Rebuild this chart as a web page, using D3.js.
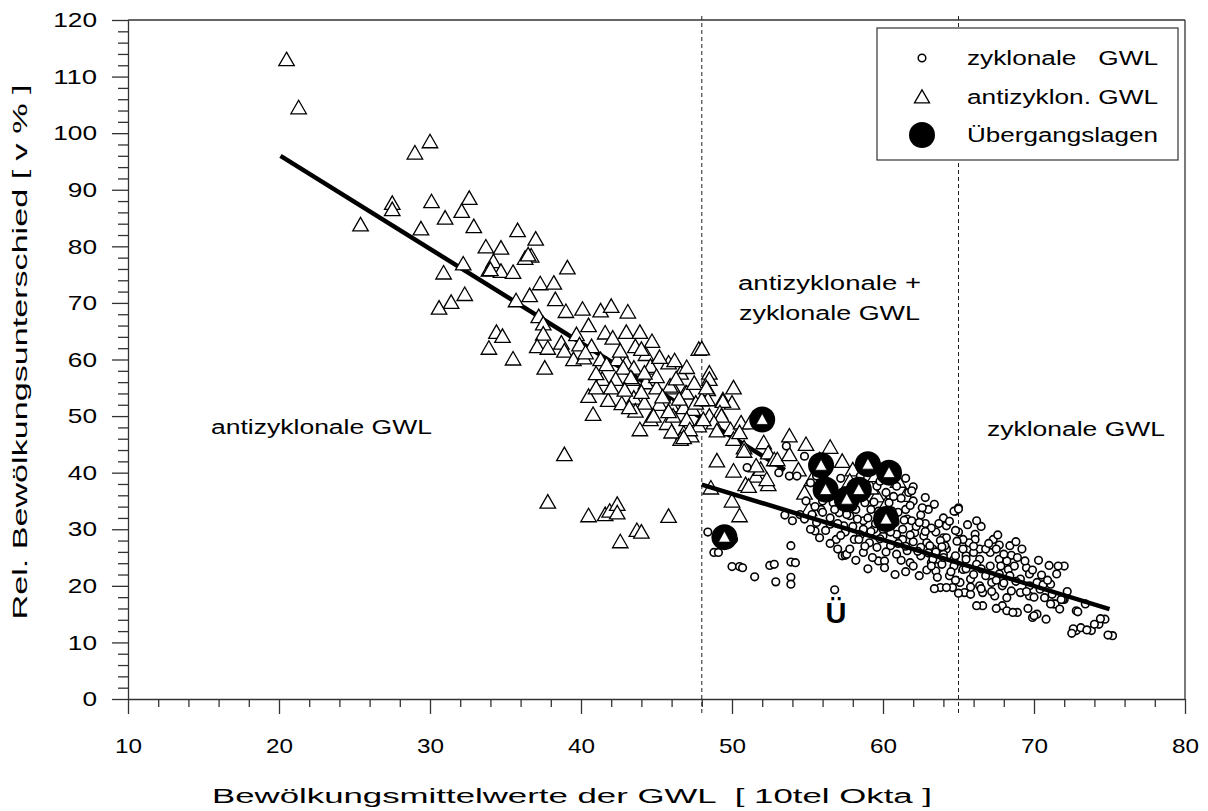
<!DOCTYPE html>
<html><head><meta charset="utf-8">
<script src="https://cdn.jsdelivr.net/npm/d3@7"></script>
<style>body{margin:0;background:#fff}svg{display:block}text{font-family:"Liberation Sans",Arial,sans-serif;fill:#000}</style>
</head><body><svg id="c" width="1208" height="811"></svg>
<script>
const xTicks = [10,20,30,40,50,60,70,80];
const yTicks = [0,10,20,30,40,50,60,70,80,90,100,110,120];
const boundaries = [48, 65];
const antiLine = [[20.1,96.0],[53.5,40.5]];
const zykLine = [[48.0,37.9],[75.0,15.9]];

const antiPoints = [
[20.5,113],[21.3,104.5],[29.0,96.5],[30.0,98.5],
[27.5,87.6],[27.5,86.5],[25.4,83.8],[30.1,87.9],[32.6,88.5],[32.1,86.2],[31.0,85.0],[29.4,83.1],[32.9,83.5],[35.8,82.8],[37.0,81.3],
[33.7,79.9],[34.7,79.7],[36.7,78.3],[36.3,77.9],[32.2,76.9],[34.2,77.3],[33.9,75.8],[34.7,75.6],[35.5,75.4],[30.9,75.3],[39.1,76.2],[36.5,78.5],[34.0,75.9],
[37.3,73.4],[38.2,73.5],[36.6,71.3],[38.3,70.6],[32.3,71.5],[31.4,70.1],[30.6,69.1],[35.7,70.4],
[39.0,68.5],[40.1,68.9],[41.3,68.6],[42.0,69.4],[43.1,68.4],[37.2,67.6],[37.5,66.3],[40.5,66.0],
[37.5,64.5],[34.4,64.8],[34.8,64.1],[33.9,62.0],[35.5,60.1],[37.6,58.5],[37.1,62.3],[37.8,62.0],[38.7,62.9],[39.7,64.4],[39.9,62.6],[40.7,62.3],[41.6,64.7],[42.1,63.8],[43.0,64.8],[43.9,64.8],[43.6,62.3],[44.7,63.2],[44.3,60.9],[45.8,59.4],[46.6,57.6],[47.8,61.8],
[38.9,61.5],[39.5,60.0],[40.2,60.3],[41.3,60.0],[42.4,60.0],[43.0,59.4],[43.5,58.5],[44.6,58.5],[40.3,61.2],[41.7,59.1],[42.8,58.5],[44.6,58.8],
[41.4,56.5],[42.3,56.5],[43.4,56.5],[44.3,55.9],[45.0,55.0],[46.1,55.0],[46.9,54.1],[43.3,56.8],[45.9,55.3],[47.0,54.1],
[40.5,53.5],[41.8,52.8],[42.7,52.2],[43.5,53.2],[44.2,52.3],[45.2,52.1],[46.0,51.8],[46.8,51.5],[47.4,51.2],[47.6,52.3],
[40.8,50.3],[43.6,50.9],[44.6,49.4],[45.7,48.7],[43.9,47.6],[46.8,47.0],[47.3,46.5],[46.6,45.9],[44.8,50.0],[46.1,50.0],[47.0,49.4],
[41.0,57.5],[42.0,55.0],[42.9,54.6],[44.0,54.2],[45.4,53.4],[46.5,53.0],[43.2,51.5],[45.0,57.0],[46.3,56.6],[47.5,55.8],
[44.2,57.6],[42.6,61.5],[44.0,61.8],[45.2,60.4],[46.2,59.8],[47.0,58.6],[41.0,55.0],[45.8,50.8],[47.8,48.3],[46.0,47.2],
[38.9,43.2],
[37.8,34.8],[40.5,32.4],[41.6,32.6],[41.9,33.2],[42.4,34.4],[42.4,32.9],[42.6,27.8],[43.7,29.8],[44.0,29.5],[45.8,32.3],
[48.0,61.9],[48.5,57.6],[48.5,56.5],[48.4,54.7],[50.1,55.0],[48.4,52.9],[49.4,52.9],[50.0,52.3],[48.0,52.9],[48.3,55.0],[49.4,52.6],[48.5,50.0],[49.2,50.6],
[49.3,50.0],[48.8,48.8],[48.1,49.4],[47.2,47.6],[46.8,46.2],[49.9,47.6],[50.6,48.8],[49.0,47.4],[50.1,45.9],[50.8,44.4],[51.2,48.8],[50.5,47.1],
[52.1,45.3],[53.8,46.5],[54.9,45.0],[52.4,43.5],[52.8,42.3],[49.0,42.1],[50.1,40.3],[50.9,37.9],[51.6,39.4],[52.4,37.9],[48.6,37.3],[50.0,35.0],[50.5,32.4],
[50.8,43.8],[51.9,40.6],[51.1,37.6],[52.3,38.8],[51.6,41.2],[53.0,42.3],[53.8,43.2],
[54.8,36.4],[55.1,33.5],[58.6,37.3],[59.6,35.9],[59.2,37.3],[60.2,34.4],[55.8,42.3],
[56.5,44.5],[57.3,42.0],[58.0,40.5],[59.5,39.5],[61.0,38.5],[61.5,36.0],[57.8,38.5],[56.0,39.5],[54.4,40.5],[55.3,38.8]
];

const zykPoints = [
[48.4,29.5],[48.8,25.9],[50.1,28.2],[50.0,23.4],[50.5,23.4],[52.5,23.6],[53.9,24.2],[53.9,27.1],[57.3,25.3],[57.5,25.4],
[53.6,44.7],[51.0,40.9],[53.8,39.4],[54.3,39.4],[54.8,42.9],[56.0,39.7],[53.1,40.0],
[54.5,32.6],[55.3,32.6],[55.5,29.7],[54.8,31.8],[56.5,30.9],[57.4,30.6],[58.1,28.2],[58.7,25.9],[59.7,24.4],
[60.9,37.6],[61.7,36.5],[61.5,33.5],[61.6,31.8],[61.9,31.5],[64.2,30.6],[64.8,33.2],[65.0,33.8],
[58.5,39.4],[59.6,37.6],[60.2,36.5],[60.4,34.7],[60.9,29.1],[61.3,28.2],[62.7,28.8],[62.9,27.6],[63.3,26.5],[64.0,28.5],[64.2,26.5],[65.3,27.6],
[56.7,34.7],[57.1,32.9],[57.8,32.4],[58.2,33.5],[58.7,31.5],[59.4,30.0],[59.1,27.6],[60.0,28.8],[60.5,27.1],[61.6,26.2],[62.5,25.3],[63.2,24.1],[63.6,24.7],[64.7,24.7],[65.5,25.3],
[56.9,28.2],[55.9,33.5],[56.3,35.9],[55.2,38.2],[55.6,39.4],[57.6,32.6],[58.8,34.7],[59.7,33.2],[58.7,30.0],[61.3,30.0],[62.1,29.4],
[49.1,25.9],[50.7,23.2],[51.5,21.6],[52.8,23.8],[52.9,20.7],[53.9,21.5],[53.9,20.3],[54.2,24.1],[56.8,19.3],[57.6,25.6],
[60.1,24.4],[60.1,23.2],[61.8,24.1],[62.4,21.8],[63.8,19.7],[64.6,19.7],[65.4,18.8],[66.6,16.5],[67.9,16.5],[68.2,15.6],[68.9,15.3],[69.9,14.4],[70.2,15.0],[71.3,16.8],[71.5,22.1],[72.0,23.5],
[72.8,12.1],[73.1,12.6],[73.8,12.1],[74.3,13.2],[74.7,14.1],[75.2,11.2],[72.8,15.6],[72.0,17.6],
[64.7,33.2],[65.0,33.6],[64.2,28.5],[66.1,29.1],[66.1,28.2],[67.3,28.2],[67.7,27.2],[68.4,27.1],[68.5,25.4],[68.9,25.0],[69.5,23.2],[70.5,21.9],[71.6,23.5],[71.1,20.3],[71.9,17.6],
[73.4,16.8],[72.9,15.4],[74.4,14.2],[74.0,13.2],[73.5,12.2],[72.6,12.4],[72.5,11.6],[74.9,11.3],[70.8,14.1],[70.0,14.7],[69.6,16.0],[68.6,15.3],[67.5,16.0],[66.2,16.5],
[63.4,19.5],[64.2,19.7],[65.0,18.7],[65.8,18.5],[66.6,18.8],[67.4,18.2],[68.2,17.9],[69.7,18.2],[70.4,19.4],[70.7,17.9],[71.4,16.8],[71.7,15.9],[71.8,17.6],[71.1,16.8],
[64.1,27.1],[65.3,26.5],[65.5,24.7],[66.4,26.5],[66.4,24.7],[67.1,25.9],[67.7,24.7],[68.3,22.9],[69.1,21.2],[69.7,20.0],[68.4,21.8],[67.7,22.1],[67.1,23.5],[66.2,23.8],[65.3,22.9],[64.7,23.5],[63.9,23.8],[63.3,24.7],[63.5,22.6],[64.4,21.8],[65.1,20.6],[65.8,21.2],[66.4,20.0],[67.2,20.6],[67.9,20.0],[68.5,19.1],[69.1,18.8],
[63.1,27.1],[64.0,25.6],[64.8,25.3],[65.7,27.6],[66.0,25.9],[66.8,26.5],[67.5,26.5],[68.2,24.4],[68.7,23.5],[69.7,22.1],[70.2,20.6],[65.3,28.2],[64.9,27.9],
[56.0,33.0],[56.5,32.0],[57.0,31.0],[57.5,29.5],[58.0,30.5],[58.5,29.0],[59.0,32.0],[59.5,31.0],[60.0,30.0],[60.5,29.5],[61.0,27.5],[61.5,27.0],[62.0,27.8],[62.5,26.8],[63.0,25.8],[63.5,26.0],[64.0,25.0],
[62.2,30.5],[62.8,31.0],[63.5,29.5],[63.8,28.0],[61.8,29.0],[60.8,31.2],[59.8,28.3],[58.8,27.0],[57.8,26.5],[59.3,25.0],[60.2,26.0],[61.2,24.5],[62.0,23.5],[62.9,22.8],[63.6,21.5],[64.5,22.5],
[65.5,23.0],[66.0,22.0],[66.8,21.8],[67.5,21.0],[68.0,20.5],[68.8,20.8],[69.5,19.0],[70.0,18.0],[66.5,19.5],[65.8,19.8],[67.2,19.0],[64.8,21.0],[63.2,23.5],[61.5,22.5],[60.8,22.0],[59.0,23.0],[58.2,24.5],
[57.0,26.5],[56.5,27.5],[55.8,28.5],[55.2,30.0],[54.0,31.5],[53.5,32.5],[54.9,35.0],[56.0,35.0],[58.0,34.0],[59.2,33.5],[61.0,33.0],[62.5,32.5],[63.0,33.5],[64.0,32.0],[62.0,35.0],[61.2,35.5],
[66.5,23.0],[67.8,23.5],[70.6,20.2],[70.9,21.0],[69.9,22.8],[71.2,18.5],[72.2,19.0],[67.0,27.5],[66.0,27.0],[65.0,29.5],[66.5,30.5],
[57.2,39.0],[58.0,38.0],[61.5,39.0],[62.0,37.5],[59.8,38.5],
[55.5,34.0],[56.8,33.5],[57.3,34.2],[57.9,35.8],[58.6,35.6],[59.4,34.8],[60.6,33.2],[61.8,34.2],[62.6,33.8],[62.4,31.2],[63.2,30.2],[63.7,31.0],[62.8,29.6],[61.4,31.6],[60.2,30.9],[59.2,29.6],[58.3,31.8],[57.2,28.9],[56.2,29.8],[55.6,31.2],
[60.7,35.8],[61.9,36.8],[62.8,35.6],[63.4,34.4],[64.4,31.4],[64.8,29.8],[65.6,30.8],[63.9,26.9],[62.3,26.1],[60.9,25.6],[59.6,26.8],[58.4,28.2],[66.2,31.5],[67.6,29.0],[68.8,27.8],[69.2,26.5],[70.3,24.5],[71.0,23.6],[69.4,24.4],[68.0,25.6]
];

const transPoints = [[49.5,28.6],[52.0,49.4],[55.9,41.3],[59.0,41.5],[60.4,40.0],[56.2,37.0],[57.6,35.3],[58.4,37.0],[60.2,31.8]];

const svg = d3.select("#c");
const x = d3.scaleLinear().domain([10,80]).range([128,1185]);
const y = d3.scaleLinear().domain([0,120]).range([699,20]);
const axisColor = "#333";

svg.append("line").attr("x1",x(10)).attr("x2",x(80)).attr("y1",y(120)).attr("y2",y(120)).attr("stroke",axisColor).attr("stroke-width",1.3);
svg.append("line").attr("x1",x(80)).attr("x2",x(80)).attr("y1",y(120)).attr("y2",y(0)).attr("stroke",axisColor).attr("stroke-width",1.3);

svg.selectAll(".bnd").data(boundaries).enter().append("line")
  .attr("x1",d=>x(d)).attr("x2",d=>x(d)).attr("y1",y(120)-4).attr("y2",y(0)+14)
  .attr("stroke","#222").attr("stroke-width",1).attr("stroke-dasharray","4,3");

const yMinor = d3.range(0,121,2).filter(v=>v%10!==0);
const xMinor = d3.range(10,81,2).filter(v=>v%10!==0);
svg.append("g").attr("transform",`translate(${x(10)},0)`)
  .call(d3.axisLeft(y).tickValues(yMinor).tickSize(10).tickFormat("").tickSizeOuter(0))
  .call(g=>g.select(".domain").remove()).selectAll("line").attr("stroke",axisColor).attr("stroke-width",1.3);
svg.append("g").attr("transform",`translate(0,${y(0)})`)
  .call(d3.axisBottom(x).tickValues(xMinor).tickSize(8).tickFormat("").tickSizeOuter(0))
  .call(g=>g.select(".domain").remove()).selectAll("line").attr("stroke",axisColor).attr("stroke-width",1.3);

const gy = svg.append("g").attr("transform",`translate(${x(10)},0)`)
  .call(d3.axisLeft(y).tickValues(yTicks).tickSize(16).tickPadding(15).tickSizeOuter(0));
gy.select(".domain").attr("stroke",axisColor).attr("stroke-width",1.3);
gy.selectAll(".tick line").attr("stroke",axisColor).attr("stroke-width",1.3);
gy.selectAll(".tick text").attr("font-size",21).attr("fill","#000")
  .attr("textLength",d=>String(d).length*14.6).attr("lengthAdjust","spacingAndGlyphs");

const gx = svg.append("g").attr("transform",`translate(0,${y(0)})`)
  .call(d3.axisBottom(x).tickValues(xTicks).tickSize(15).tickPadding(24).tickSizeOuter(0));
gx.select(".domain").attr("stroke",axisColor).attr("stroke-width",1.3);
gx.selectAll(".tick line").attr("stroke",axisColor).attr("stroke-width",1.3);
gx.selectAll(".tick text").attr("font-size",21).attr("fill","#000")
  .attr("textLength",d=>String(d).length*13.5).attr("lengthAdjust","spacingAndGlyphs");

svg.append("text").attr("x",572).attr("y",803).attr("text-anchor","middle").attr("font-size",20)
  .style("white-space","pre").attr("textLength",720).attr("lengthAdjust","spacingAndGlyphs")
  .text("Bewölkungsmittelwerte der GWL  [ 10tel Okta ]");
svg.append("text").attr("transform","translate(27,352) rotate(-90)").attr("text-anchor","middle").attr("font-size",20)
  .attr("textLength",535).attr("lengthAdjust","spacingAndGlyphs")
  .text("Rel. Bewölkungsunterschied [ v % ]");

const line = d3.line().x(d=>x(d[0])).y(d=>y(d[1]));
svg.append("path").attr("d",line(antiLine)).attr("stroke","#000").attr("stroke-width",4.5).attr("fill","none");

const tri = (cx,cy,w,h)=>`M${cx},${cy-h*0.55}L${cx+w/2},${cy+h*0.45}L${cx-w/2},${cy+h*0.45}Z`;
svg.append("g").selectAll("path").data(antiPoints).enter().append("path")
  .attr("d",d=>tri(x(d[0]),y(d[1]),15.5,13.5)).attr("fill","#fff").attr("stroke","#000").attr("stroke-width",1.3);

svg.append("g").selectAll("circle").data(zykPoints).enter().append("circle")
  .attr("cx",d=>x(d[0])).attr("cy",d=>y(d[1])).attr("r",3.8).attr("fill","#fff").attr("stroke","#000").attr("stroke-width",1.6);

svg.append("path").attr("d",line(zykLine)).attr("stroke","#000").attr("stroke-width",4.5).attr("fill","none");

const gt = svg.append("g");
gt.selectAll("circle").data(transPoints).enter().append("circle")
  .attr("cx",d=>x(d[0])).attr("cy",d=>y(d[1])).attr("r",13).attr("fill","#000");
gt.selectAll("path").data(transPoints).enter().append("path")
  .attr("d",d=>tri(x(d[0]),y(d[1]),12,11)).attr("fill","#fff").attr("stroke","#000").attr("stroke-width",0.8);

const ann = [
  {t:"antizyklonale GWL", x:211, y:434, w:221},
  {t:"antizyklonale +", x:738, y:290, w:183},
  {t:"zyklonale GWL", x:739, y:320, w:181},
  {t:"zyklonale GWL", x:987, y:436, w:178}
];
svg.selectAll(".ann").data(ann).enter().append("text")
  .attr("x",d=>d.x).attr("y",d=>d.y).attr("font-size",20)
  .attr("textLength",d=>d.w).attr("lengthAdjust","spacingAndGlyphs").text(d=>d.t);
svg.append("text").attr("x",836).attr("y",623).attr("text-anchor","middle").attr("font-size",29).attr("font-weight","bold").text("Ü");

const lg = svg.append("g");
lg.append("rect").attr("x",877).attr("y",28).attr("width",301).attr("height",132).attr("fill","#fff").attr("stroke","#333").attr("stroke-width",1.2);
lg.append("circle").attr("cx",922).attr("cy",58).attr("r",3.8).attr("fill","#fff").attr("stroke","#000").attr("stroke-width",1.5);
lg.append("path").attr("d",tri(922,97,15,13)).attr("fill","#fff").attr("stroke","#000").attr("stroke-width",1.3);
lg.append("circle").attr("cx",922).attr("cy",135).attr("r",13).attr("fill","#000");
const legendItems = ["zyklonale   GWL","antizyklon. GWL","Übergangslagen"];
lg.selectAll("text").data(legendItems).enter().append("text")
  .attr("x",967).attr("y",(d,i)=>[65,104,142][i]).attr("font-size",20).style("white-space","pre")
  .attr("textLength",191).attr("lengthAdjust","spacingAndGlyphs").text(d=>d);
</script></body></html>
